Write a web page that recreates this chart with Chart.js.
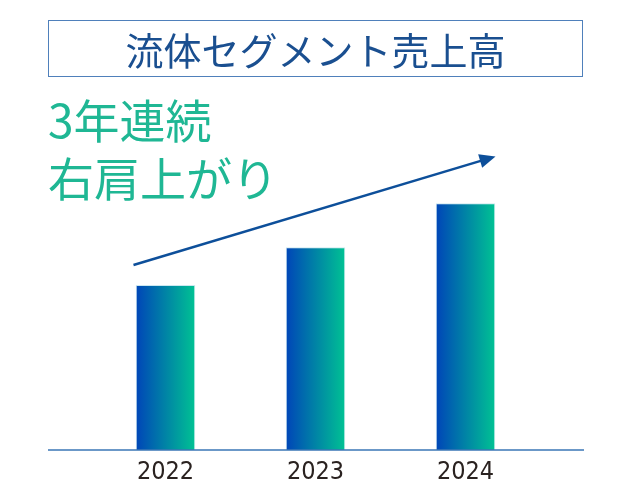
<!DOCTYPE html>
<html lang="ja">
<head>
<meta charset="utf-8">
<script src="https://cdn.jsdelivr.net/npm/chart.js@4"></script>
<style>
  html, body { margin: 0; padding: 0; background: #fff; }
  #wrap { position: relative; width: 630px; height: 500px; }
  #grafica { position: absolute; left: 0; top: 0; }
  .titulo {
    position: absolute; left: 48px; top: 20px; width: 535px; height: 57px;
    border: 1.5px solid #4f80bb; box-sizing: border-box;
    display: flex; align-items: center; justify-content: center;
    font-family: "Noto Sans CJK JP", sans-serif; font-size: 38px; color: #1a4f90;
    line-height: 1;
  }
  .lema {
    position: absolute; left: 48px; top: 89px;
    font-family: "Noto Sans CJK JP", sans-serif; font-size: 46px; line-height: 58px;
    color: #1fb794;
  }
</style>
</head>
<body>
<div id="wrap">
  <canvas id="grafica" width="630" height="500"></canvas>
  <div class="titulo">流体セグメント売上高</div>
  <div class="lema">3年連続<br>右肩上がり</div>
</div>
<script>
// datos (indice, 2024 = 100)
const anios = ["2022", "2023", "2024"];
const ventas = [66.9, 82.2, 100];
const flechaDesde = 75;   // altura de la flecha en 2022
const flechaHasta = 119;  // altura de la punta en 2024

function gradiente(ctx) {
  const chart = ctx.chart;
  if (!chart.chartArea) return "#0047b7";
  const x = chart.scales.x.getPixelForValue(ctx.dataIndex);
  const g = chart.ctx.createLinearGradient(x - 30, 0, x + 30, 0);
  g.addColorStop(0, "#0044b8");
  g.addColorStop(1, "#00c393");
  return g;
}

// linea base y flecha
const extras = {
  id: "extras",
  afterDatasetsDraw(chart) {
    const c = chart.ctx;
    const x = chart.scales.x;
    const y = chart.scales.y;
    const y0 = y.getPixelForValue(0);
    c.save();
    c.strokeStyle = "#3a76b6";
    c.lineWidth = 1.5;
    c.beginPath();
    c.moveTo(48, y0);
    c.lineTo(584, y0);
    c.stroke();

    const x1 = x.getPixelForValue(0) - 32;
    const y1 = y.getPixelForValue(flechaDesde);
    const x2 = x.getPixelForValue(2) + 30;
    const y2 = y.getPixelForValue(flechaHasta);
    const ang = Math.atan2(y2 - y1, x2 - x1);
    c.strokeStyle = "#0d4f9a";
    c.fillStyle = "#0d4f9a";
    c.lineWidth = 2.5;
    c.beginPath();
    c.moveTo(x1, y1);
    c.lineTo(x2 - 12 * Math.cos(ang), y2 - 12 * Math.sin(ang));
    c.stroke();
    c.beginPath();
    c.moveTo(x2, y2);
    c.lineTo(x2 - 16 * Math.cos(ang) + 7 * Math.sin(ang), y2 - 16 * Math.sin(ang) - 7 * Math.cos(ang));
    c.lineTo(x2 - 16 * Math.cos(ang) - 7 * Math.sin(ang), y2 - 16 * Math.sin(ang) + 7 * Math.cos(ang));
    c.closePath();
    c.fill();
    c.restore();
  }
};

document.addEventListener("DOMContentLoaded", function () {
  const ctx = document.getElementById("grafica").getContext("2d");
  new Chart(ctx, {
    type: "bar",
    data: {
      labels: anios,
      datasets: [
        {
          label: "売上高",
          data: ventas,
          backgroundColor: gradiente,
          borderColor: "#cbe8f0",
          borderWidth: 1,
          borderSkipped: "bottom",
          categoryPercentage: 1,
          barPercentage: 0.397,
        },
      ],
    },
    options: {
      responsive: false,
      animation: false,
      layout: { padding: { left: 90.5, right: 89.5, top: 154, bottom: 10 } },
      plugins: { legend: { display: false }, tooltip: { enabled: false } },
      scales: {
        x: {
          grid: { display: false, drawTicks: false },
          border: { display: false },
          ticks: {
            color: "#2a2220",
            padding: 7,
            font: { family: "'DejaVu Sans Condensed', 'Liberation Sans', sans-serif", size: 25 },
          },
          afterFit(scale) { scale.height = 40; },
        },
        y: {
          display: false,
          min: 0,
          max: 120,
        },
      },
    },
    plugins: [extras],
  });
});
</script>
</body>
</html>
